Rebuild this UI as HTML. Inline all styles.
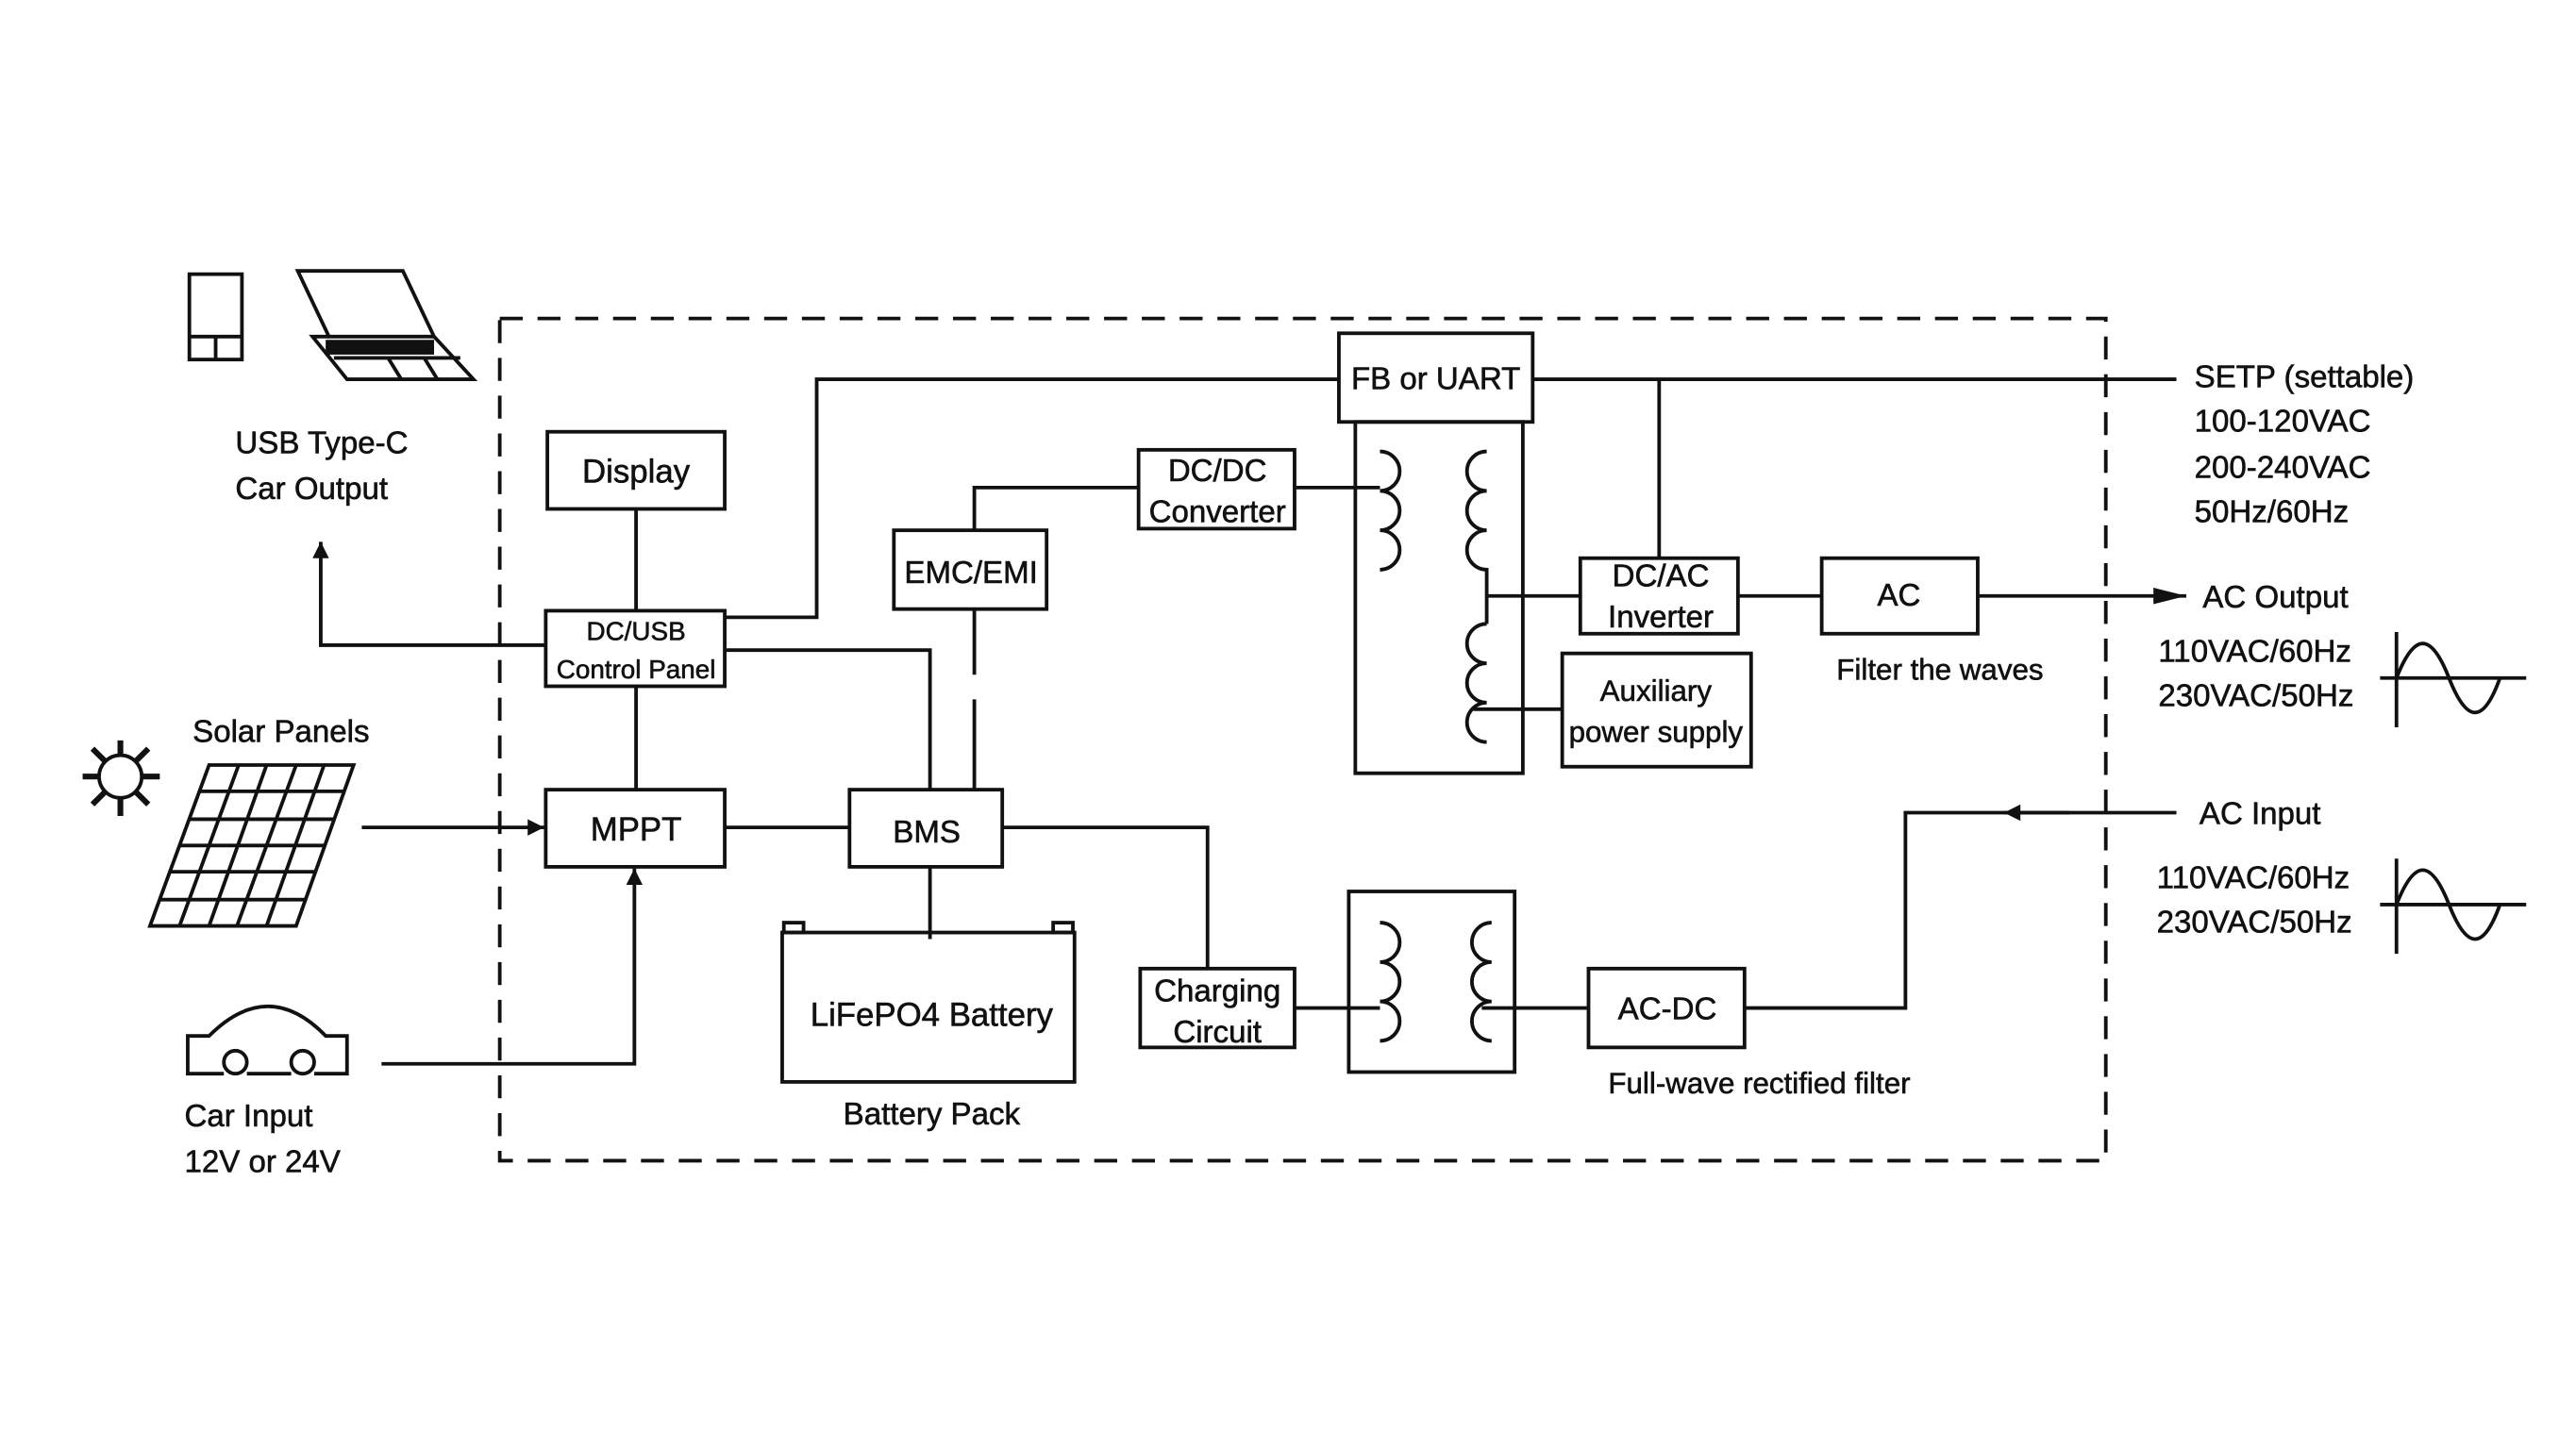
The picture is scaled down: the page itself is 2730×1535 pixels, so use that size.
<!DOCTYPE html>
<html><head><meta charset="utf-8"><style>
html,body{margin:0;padding:0;background:#fff;}
svg{display:block;}
text{font-family:"Liberation Sans",Arial,sans-serif;fill:#111;stroke:#111;stroke-width:0.35;}
</style></head><body>
<svg width="2730" height="1535" viewBox="0 0 1568 882" xmlns="http://www.w3.org/2000/svg">
<defs>
<marker id="ar" viewBox="0 0 10 10" refX="10" refY="5" markerWidth="11" markerHeight="16" orient="auto" markerUnits="userSpaceOnUse"><path d="M0,0 L10,5 L0,10 z" fill="#111"/></marker>
<marker id="ar2" viewBox="0 0 10 10" refX="10" refY="5" markerWidth="22" markerHeight="10" orient="auto" markerUnits="userSpaceOnUse"><path d="M0,0 L10,5 L0,10 z" fill="#111"/></marker>
<marker id="arL" viewBox="0 0 20 10" refX="20" refY="5" markerWidth="22" markerHeight="10" orient="auto" markerUnits="userSpaceOnUse"><path d="M0,0 L20,5 L0,10 z" fill="#111"/></marker>
</defs>
<rect width="1568" height="882" fill="#fff"/>
<g fill="none" stroke="#111" stroke-width="2.2">
<rect x="304" y="194" width="978" height="513" stroke-dasharray="14,9"/>
<rect x="815" y="203" width="118" height="54"/>
<rect x="825" y="257" width="102" height="214"/>
<rect x="333" y="263" width="108" height="47"/>
<rect x="332" y="372" width="109" height="46"/>
<rect x="332" y="481" width="109" height="47"/>
<rect x="517" y="481" width="93" height="47"/>
<rect x="544" y="323" width="93" height="48"/>
<rect x="693" y="274" width="95" height="48"/>
<rect x="962" y="340" width="96" height="46"/>
<rect x="1109" y="340" width="95" height="46"/>
<rect x="951" y="398" width="115" height="69"/>
<rect x="476" y="568" width="178" height="91"/>
<rect x="694" y="590" width="94" height="48"/>
<rect x="821" y="543" width="101" height="110"/>
<rect x="967" y="590" width="95" height="48"/>
<rect x="477" y="562" width="12" height="6"/>
<rect x="641" y="562" width="12" height="6"/>
<path d="M441,376 H497 V231 H815"/>
<path d="M933,231 H1325"/>
<path d="M1010,231 V340"/>
<path d="M387,310 V372"/>
<path d="M387,418 V481"/>
<path d="M332,393 H195 V330" marker-end="url(#ar2)"/>
<path d="M441,396 H566 V481"/>
<path d="M593,371 V411 M593,426 V481"/>
<path d="M593,323 V297 H693"/>
<path d="M788,297 H840"/>
<path d="M441,504 H517"/>
<path d="M220,504 H331" marker-end="url(#ar2)"/>
<path d="M232,648 H386 V529" marker-end="url(#ar2)"/>
<path d="M566,528 V572"/>
<path d="M610,504 H735 V590"/>
<path d="M788,614 H840"/>
<path d="M902,614 H967"/>
<path d="M1062,614 H1160 V495 H1325"/>
<path d="M1260,495 H1220" marker-end="url(#ar2)"/>
<path d="M905,363 H962"/>
<path d="M1058,363 H1109"/>
<path d="M1204,363 H1331" marker-end="url(#arL)"/>
<path d="M897,432 H951"/>
<path d="M840,275 a12,12 0 0 1 0,24 a12,12 0 0 1 0,24 a12,12 0 0 1 0,24"/>
<path d="M905,275 a12,12 0 0 0 0,24 a12,12 0 0 0 0,24 a12,12 0 0 0 0,24 V380"/>
<path d="M905,380 a12,12 0 0 0 0,24 a12,12 0 0 0 0,24 a12,12 0 0 0 0,24"/>
<path d="M840,562 a12,12 0 0 1 0,24 a12,12 0 0 1 0,24 a12,12 0 0 1 0,24"/>
<path d="M908,562 a12,12 0 0 0 0,24 a12,12 0 0 0 0,24 a12,12 0 0 0 0,24"/>
<rect x="115" y="167" width="32" height="52"/>
<path d="M115,205 H147 M131,205 V219"/>
<path d="M181,165 H245 L264,205 H200 Z"/>
<path d="M200,205 L190,205 L211,231 H288 L264,205"/>
<path d="M203,218 H280 M236,218 L244,231 M258,218 L266,231"/>
<circle cx="73" cy="473" r="13"/>
<path d="M73,451 V460 M73,486 V497 M50,473 H60 M86,473 H97 M56,456 L64,464 M82,482 L90,490 M90,456 L82,464 M56,490 L64,482" stroke-width="3.5"/>
<path d="M127,466 H215 L180,564 H91 Z"/>
<path d="M121,482 H209 M115,499 H203 M109,515 H198 M103,531 H192 M97,548 H186"/>
<path d="M145,466 L109,564 M162,466 L127,564 M180,466 L144,564 M197,466 L162,564"/>
<path d="M136,654 H114 V631 H127 Q163,595 198,631 H211 V654 H191 M177,654 H150"/>
<circle cx="143" cy="647" r="7"/><circle cx="184" cy="647" r="7"/>
<path d="M1459,385 V443 M1449,413 H1538"/>
<path d="M1459,413 C1470,385 1480,385 1491,413 C1502,441 1512,441 1522,413"/>
<path d="M1459,523 V581 M1449,551 H1538"/>
<path d="M1459,551 C1470,523 1480,523 1491,551 C1502,579 1512,579 1522,551"/>
</g>
<rect x="198" y="207" width="66" height="9" fill="#111"/>
<g font-size="19">
<text x="874" y="237" text-anchor="middle">FB or UART</text>
<text x="387" y="294" text-anchor="middle" font-size="20">Display</text>
<text x="387" y="390" text-anchor="middle" font-size="16">DC/USB</text>
<text x="387" y="413" text-anchor="middle" font-size="16">Control Panel</text>
<text x="387" y="512" text-anchor="middle" font-size="20">MPPT</text>
<text x="564" y="513" text-anchor="middle">BMS</text>
<text x="591" y="355" text-anchor="middle">EMC/EMI</text>
<text x="741" y="293" text-anchor="middle">DC/DC</text>
<text x="741" y="318" text-anchor="middle">Converter</text>
<text x="1011" y="357" text-anchor="middle">DC/AC</text>
<text x="1011" y="382" text-anchor="middle">Inverter</text>
<text x="1156" y="369" text-anchor="middle">AC</text>
<text x="1008" y="427" text-anchor="middle" font-size="18">Auxiliary</text>
<text x="1008" y="452" text-anchor="middle" font-size="18">power supply</text>
<text x="567" y="625" text-anchor="middle" font-size="20">LiFePO4 Battery</text>
<text x="567" y="685" text-anchor="middle">Battery Pack</text>
<text x="741" y="610" text-anchor="middle">Charging</text>
<text x="741" y="635" text-anchor="middle">Circuit</text>
<text x="1015" y="621" text-anchor="middle">AC-DC</text>
<text x="1071" y="666" text-anchor="middle" font-size="18">Full-wave rectified filter</text>
<text x="1181" y="414" text-anchor="middle" font-size="18">Filter the waves</text>
<text x="143" y="276">USB  Type-C</text>
<text x="143" y="304">Car Output</text>
<text x="117" y="452">Solar Panels</text>
<text x="112" y="686">Car Input</text>
<text x="112" y="714">12V or 24V</text>
<text x="1336" y="236">SETP (settable)</text>
<text x="1336" y="263">100-120VAC</text>
<text x="1336" y="291">200-240VAC</text>
<text x="1336" y="318">50Hz/60Hz</text>
<text x="1341" y="370">AC Output</text>
<text x="1314" y="403">110VAC/60Hz</text>
<text x="1314" y="430">230VAC/50Hz</text>
<text x="1339" y="502">AC Input</text>
<text x="1313" y="541">110VAC/60Hz</text>
<text x="1313" y="568">230VAC/50Hz</text>
</g>
</svg>
</body></html>
